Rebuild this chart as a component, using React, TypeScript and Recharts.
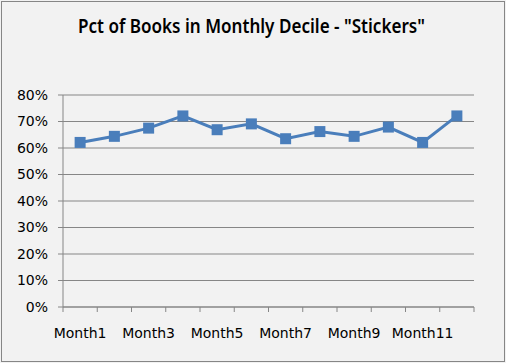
import React from "react"
import { LineChart, Line, XAxis, YAxis, CartesianGrid } from "recharts"

// values
const months = ["Month1", "Month2", "Month3", "Month4", "Month5", "Month6", "Month7", "Month8", "Month9", "Month10", "Month11", "Month12"]
const pctStickers = [62.1, 64.4, 67.5, 72.1, 66.9, 69.1, 63.5, 66.2, 64.4, 67.9, 62.1, 72.1]
const yTicks = [0, 10, 20, 30, 40, 50, 60, 70, 80]

const W = 506
const H = 363
const X_H = 56
const Y_W = 63
const M = { top: 95, right: 32, bottom: 0, left: 0 }
const PLOT_W = W - M.left - M.right - Y_W
const HALF = PLOT_W / months.length / 2

const data = months.map((m, i) => ({ x: i + 0.5, name: m, pct: pctStickers[i] }))
const xTicks = months.map((_, i) => i).concat(months.length)

const FONT = "'DejaVu Sans', Verdana, sans-serif"
const BLUE = "#4a7ebb"
const GRID = "#868686"

function MonthTick(props: any) {
  const { x, y, payload } = props
  const v = payload.value
  if (v % 2 !== 0 || v >= months.length) return null
  return (
    <text x={x + HALF} y={y} dy="0.71em" textAnchor="middle" fontFamily={FONT} fontSize={14} fill="#000">
      {months[v]}
    </text>
  )
}

function SquareDot(props: any) {
  const { cx, cy } = props
  return <rect x={cx - 5.5} y={cy - 5.5} width={11} height={11} fill={BLUE} stroke="none" />
}

export default function App() {
  return (
    <div style={{ position: "absolute", left: 0, top: 0, width: W, height: H, background: "#f2f2f2" }}>
      <div style={{ position: "absolute", left: 1, top: 1, width: W - 4, height: H - 4, border: `1px solid ${GRID}` }} />
      <svg width={W} height={60} style={{ position: "absolute", left: 0, top: 0 }}>
        <text
          x={251.5}
          y={33}
          textAnchor="middle"
          fontFamily="'Noto Sans', sans-serif"
          fontWeight={600}
          fontSize={19}
          textLength={347}
          lengthAdjust="spacingAndGlyphs"
          fill="#000"
        >
          Pct of Books in Monthly Decile - "Stickers"
        </text>
      </svg>
      <LineChart width={W} height={H} data={data} margin={M} style={{ position: "absolute", left: 0, top: 0 }}>
        <CartesianGrid vertical={false} stroke={GRID} strokeWidth={1} />
        <XAxis
          dataKey="x"
          type="number"
          domain={[0, months.length]}
          ticks={xTicks}
          interval={0}
          tickSize={5}
          tickMargin={16}
          axisLine={{ stroke: GRID }}
          tickLine={{ stroke: GRID }}
          tick={<MonthTick />}
          height={X_H}
        />
        <YAxis
          type="number"
          domain={[0, 80]}
          ticks={yTicks}
          interval={0}
          width={Y_W}
          tickSize={5}
          tickMargin={10}
          tickFormatter={(v: number) => `${v}%`}
          axisLine={{ stroke: GRID }}
          tickLine={{ stroke: GRID }}
          tick={{ fontFamily: FONT, fontSize: 14, fill: "#000" }}
        />
        <Line
          dataKey="pct"
          stroke={BLUE}
          strokeWidth={3}
          dot={<SquareDot />}
          activeDot={false}
          isAnimationActive={false}
        />
      </LineChart>
    </div>
  )
}
